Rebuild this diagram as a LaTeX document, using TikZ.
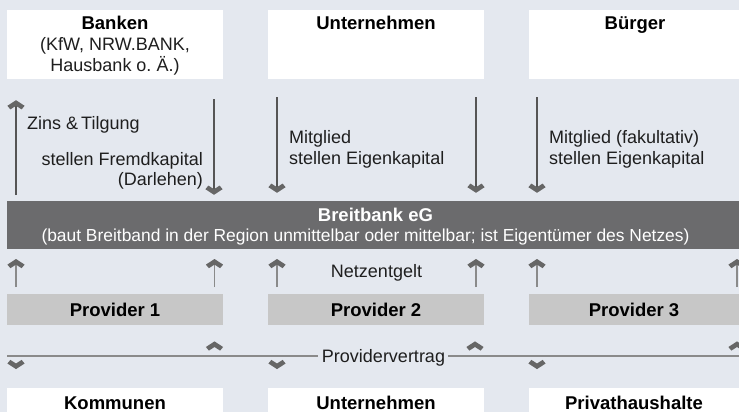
\documentclass[tikz,border=0pt]{standalone}
\usepackage{fontspec}
\setmainfont{Liberation Sans}
\definecolor{bg}{HTML}{E4E8EF}
\definecolor{barc}{HTML}{6B6B6D}
\definecolor{provc}{HTML}{C7C7C7}
\definecolor{linec}{HTML}{555555}
\definecolor{linel}{HTML}{8A8A8A}
\definecolor{chevc}{HTML}{666666}
\definecolor{txtc}{HTML}{1E1E1E}
\begin{document}
\begin{tikzpicture}[x=1pt,y=-1pt,
  wbox/.style={fill=white, draw=none, inner sep=0pt, minimum width=216pt, anchor=north west},
  pbox/.style={fill=provc, draw=none, inner sep=0pt, minimum width=216pt, minimum height=31pt, anchor=north west},
  tit/.style={font=\bfseries\fontsize{18.5}{21}\selectfont, text=black, inner sep=0pt, anchor=base},
  txt/.style={font=\fontsize{18}{21}\selectfont, text=txtc, inner sep=0pt},
  arrline/.style={draw=linec, line width=1.3pt},
  arrlight/.style={draw=linel, line width=1.1pt},
  chev/.style={fill=chevc, draw=none},
  chevup/.pic={\fill[chev] (0,-4.6) -- (8.6,1.0) -- (5.6,4.6) -- (0,1.0) -- (-5.6,4.6) -- (-8.6,1.0) -- cycle;},
  chevdown/.pic={\fill[chev] (0,4.6) -- (8.6,-1.0) -- (5.6,-4.6) -- (0,-1.0) -- (-5.6,-4.6) -- (-8.6,-1.0) -- cycle;}
]
\useasboundingbox (0,0) rectangle (739,412);
\clip (0,0) rectangle (739,412);
\fill[bg] (0,0) rectangle (739,412);

% top boxes
\node[wbox, minimum height=69pt] (bank) at (7,10) {};
\node[wbox, minimum height=69pt] (unt) at (268,10) {};
\node[wbox, minimum height=69pt, minimum width=220pt] (bue) at (529,10) {};
\node[tit] (bankt) at (115,30) {Banken};
\node[txt, anchor=base] (bank2) at (115,50.5) {(KfW, NRW.BANK,};
\node[txt, anchor=base] (bank3) at (115,71.5) {Hausbank o.\ Ä.)};
\node[tit] (untt) at (376,30) {Unternehmen};
\node[tit] (buet) at (635,30) {Bürger};

% bar
\node[fill=barc, inner sep=0pt, minimum width=732pt, minimum height=48pt, anchor=north west] (bar) at (7,201) {};
\node[tit, text=white] (bart) at (375.5,221.5) {Breitbank eG};
\node[txt, text=white, anchor=base, font=\fontsize{17.4}{21}\selectfont] (bars) at (365.5,241.5) {(baut Breitband in der Region unmittelbar oder mittelbar; ist Eigentümer des Netzes)};

% top arrows
\coordinate (u1s) at (16,195); \coordinate (u1e) at (16,104.8);
\coordinate (d1s) at (214,99); \coordinate (d1e) at (214,190.2);
\coordinate (d2s) at (277,97); \coordinate (d2e) at (277,188.2);
\coordinate (d3s) at (476,97); \coordinate (d3e) at (476,188.2);
\coordinate (d4s) at (537,97); \coordinate (d4e) at (537,188.2);
\draw[arrline] (u1s) -- (u1e) pic {chevup};
\draw[arrline] (d1s) -- (d1e) pic {chevdown};
\draw[arrline] (d2s) -- (d2e) pic {chevdown};
\draw[arrline] (d3s) -- (d3e) pic {chevdown};
\draw[arrline] (d4s) -- (d4e) pic {chevdown};
\node[txt, anchor=base west] (zins) at (27,129.5) {Zins \&\,Tilgung};
\node[txt, anchor=base east] (fremd) at (203,165) {stellen Fremdkapital};
\node[txt, anchor=base east] (darl) at (203,185) {(Darlehen)};
\node[txt, anchor=base west] (mit1) at (289,143) {Mitglied};
\node[txt, anchor=base west] (ek1) at (289,164) {stellen Eigenkapital};
\node[txt, anchor=base west] (mit2) at (549,143) {Mitglied (fakultativ)};
\node[txt, anchor=base west] (ek2) at (549,164) {stellen Eigenkapital};

% provider boxes
\node[pbox] (p1) at (7,294) {};
\node[pbox] (p2) at (268,294) {};
\node[pbox, minimum width=220pt] (p3) at (529,294) {};
\node[tit] (p1t) at (115,316) {Provider 1};
\node[tit] (p2t) at (376,316) {Provider 2};
\node[tit] (p3t) at (634,316) {Provider 3};

% Netzentgelt arrows
\foreach \x [count=\i] in {16,214.5,277,476,537,737} {
  \coordinate (ns\i) at (\x,287);
  \coordinate (ne\i) at (\x,263.6);
  \draw[arrlight] (ns\i) -- (ne\i) pic {chevup};
}
\node[txt, anchor=base] (netz) at (376.5,277.5) {Netzentgelt};

% Providervertrag
\node[txt, anchor=base] (pv) at (383.5,362) {Providervertrag};
\coordinate (pvl) at (7,356);
\coordinate (pvr) at (739,356);
\draw[arrlight] (pvl) -- ([xshift=-4pt]pv.west |- pvl);
\draw[arrlight] ([xshift=3pt]pv.east |- pvr) -- (pvr);
\foreach \x in {214.5,475,737} { \pic at (\x,346) {chevup}; }
\foreach \x in {16,277,537} { \pic at (\x,364.5) {chevdown}; }

% bottom boxes
\node[wbox, minimum height=40pt] (kom) at (7,388) {};
\node[wbox, minimum height=40pt] (unt2) at (268,388) {};
\node[wbox, minimum height=40pt, minimum width=220pt] (priv) at (529,388) {};
\node[tit] (komt) at (115,409.5) {Kommunen};
\node[tit] (unt2t) at (376,409.5) {Unternehmen};
\node[tit] (privt) at (634,409.5) {Privathaushalte};
\end{tikzpicture}
\end{document}
